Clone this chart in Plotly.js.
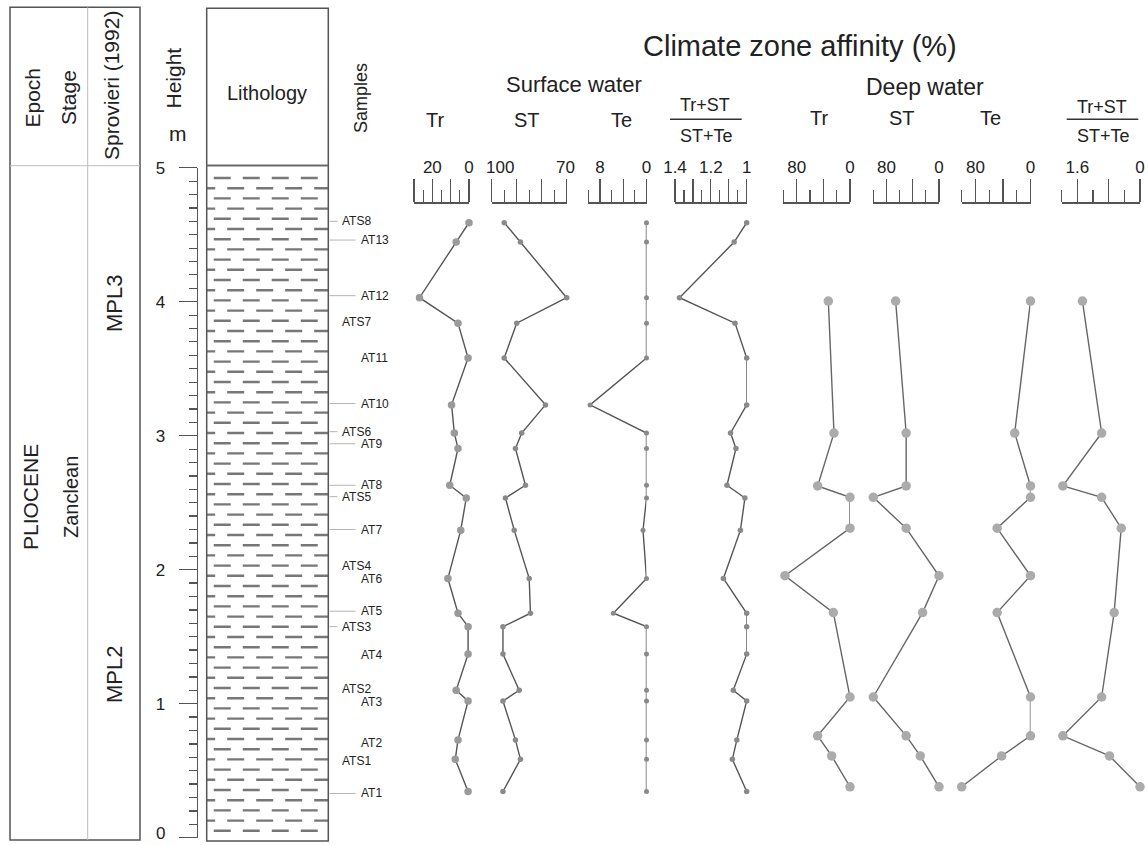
<!DOCTYPE html>
<html>
<head>
<meta charset="utf-8">
<script src="https://cdn.plot.ly/plotly-3.0.1.min.js"></script>
<style>html,body{margin:0;padding:0;background:#fff;}#chart{width:1148px;height:845px;}</style>
</head>
<body>
<div id="chart"></div>
<script>
// ---------------- DATA ----------------
// Sample labels in the "Samples" column and their heights (m)
const labelNames   = ['ATS8','AT13','AT12','ATS7','AT11','AT10','ATS6','AT9','AT8','ATS5','AT7','ATS4','AT6','AT5','ATS3','AT4','ATS2','AT3','AT2','ATS1','AT1'];
const labelHeights = [4.60, 4.46, 4.045, 3.85, 3.58, 3.24, 3.03, 2.94, 2.63, 2.545, 2.30, 2.03, 1.93, 1.69, 1.575, 1.36, 1.11, 1.01, 0.71, 0.57, 0.33];
const leaderNames  = ['ATS8','AT13','AT12','AT10','ATS6','AT9','AT8','ATS5','AT7','AT5','ATS3','AT1'];

// Surface water (planktonic) samples
const surfaceSamples = ['ATS8','AT13','AT12','ATS7','AT11','AT10','ATS6','AT9','AT8','ATS5','AT7','AT6','AT5','ATS3','AT4','ATS2','AT3','AT2','ATS1','AT1'];
const surfaceHeight  = [4.59, 4.445, 4.03, 3.84, 3.58, 3.23, 3.02, 2.905, 2.63, 2.535, 2.295, 1.935, 1.675, 1.575, 1.37, 1.10, 1.02, 0.73, 0.585, 0.345];
const surfaceTr      = [0, 7, 27, 6, 0.5, 9.5, 8, 6, 10.5, 1.5, 4.5, 11.5, 6, 0.5, 0.5, 7, 0.5, 6, 7.5, 0.5];
const surfaceST      = [95, 88.5, 70, 90, 95, 78.5, 88, 90.5, 86.5, 94.5, 91, 85, 84.5, 95.5, 95.5, 89, 95.5, 90.5, 88.5, 95.5];
const surfaceTe      = [0, 0, 0, 0, 0, 9.7, 0, 0, 0, 0, 0.6, 0, 5.7, 0, 0, 0, 0, 0, 0, 0];
const surfaceRatio   = [1.0, 1.07, 1.375, 1.065, 1.0, 1.0, 1.09, 1.06, 1.11, 1.01, 1.035, 1.13, 1.0, 1.0, 1.0, 1.075, 1.0, 1.055, 1.08, 1.0];

// Deep water (benthic) samples
const deepSamples = ['AT12','ATS6','AT8','ATS5','AT7','AT6','AT5','AT3','AT2','ATS1','AT1'];
const deepHeight  = [4.005, 3.02, 2.625, 2.54, 2.31, 1.955, 1.68, 1.05, 0.76, 0.61, 0.38];
const deepTr      = [32.5, 24, 48.5, 0, 0, 97.5, 25, 0, 48.5, 27.5, 0];
const deepST      = [66, 50, 50, 100, 50, 0, 25, 100, 50, 28.5, 0];
const deepTe      = [0, 23, 0, 0, 48.5, 0, 48.5, 0, 0, 42, 100];
const deepRatio   = [1.47, 0.98, 1.97, 0.98, 0.48, null, 0.66, 0.98, 1.97, 0.78, 0];

// Height axis ticks (m)
const heightTicks = [0, 1, 2, 3, 4, 5];

// ---------------- LAYOUT HELPERS ----------------
const W = 1148, H = 845;
const px = v => v / W;
const py = v => 1 - v / H;
const FONT = 'Liberation Sans, Arial, Helvetica, sans-serif';
const DARK = '#222';
const AX = '#555';

const yTop = 167.7, yBot = 837.7;   // pixel rows of 5 m and 0 m
const bracketY = 202.3;

function miniAxis(l, r, range, tall, text, short) {
  return {
    domain: [px(l), px(r)], range: range, anchor: 'free', position: py(bracketY), side: 'top',
    showline: true, linecolor: AX, linewidth: 1.3,
    ticks: 'outside', ticklen: 23, tickwidth: 1.2, tickcolor: AX,
    tickmode: 'array', tickvals: tall, ticktext: text,
    tickfont: {family: FONT, size: 17, color: DARK},
    minor: {tickmode: 'array', tickvals: short, ticks: 'outside', ticklen: 12, tickwidth: 1.2, tickcolor: AX, showgrid: false},
    showgrid: false, zeroline: false, fixedrange: true
  };
}

function series(x, y, xa, size, color, lineColor) {
  return {
    type: 'scatter', mode: 'lines+markers', x: x, y: y, xaxis: xa, yaxis: 'y',
    line: {color: lineColor, width: 1.4}, marker: {size: size, color: color, line: {width: 0}},
    connectgaps: true, cliponaxis: false, hoverinfo: 'skip', showlegend: false
  };
}

const traces = [
  series(surfaceTr, surfaceHeight, 'x', 7.5, '#9a9a9a', '#555'),
  series(surfaceST, surfaceHeight, 'x2', 5.5, '#8a8a8a', '#555'),
  series(surfaceTe, surfaceHeight, 'x3', 5, '#8a8a8a', '#555'),
  series(surfaceRatio, surfaceHeight, 'x4', 5.5, '#8a8a8a', '#555'),
  series(deepTr, deepHeight, 'x5', 9.5, '#ababab', '#666'),
  series(deepST, deepHeight, 'x6', 9.5, '#ababab', '#666'),
  series(deepTe, deepHeight, 'x7', 9.5, '#ababab', '#666'),
  series(deepRatio, deepHeight, 'x8', 9.5, '#ababab', '#666')
];

// Lithology texture: dashed rows (clay / marl symbol)
const rowStep = 10.2 / 134;
const rowsA = {x: [], y: []}, rowsB = {x: [], y: []};
let k = 0;
for (let h = 5 - 10.3 / 134; h > 0.03; h -= rowStep, k++) {
  const tgt = (k % 2 === 0) ? rowsA : rowsB;
  tgt.x.push(k % 2 === 0 ? 0.058 : -0.07, 1.0, null);
  tgt.y.push(h, h, null);
}
[rowsA, rowsB].forEach(r => traces.push({
  type: 'scatter', mode: 'lines', x: r.x, y: r.y, xaxis: 'x9', yaxis: 'y',
  line: {color: '#777', width: 2.4, dash: '17px,12px'}, connectgaps: false,
  hoverinfo: 'skip', showlegend: false
}));

// ---------------- ANNOTATIONS ----------------
const ann = [];
function txt(text, x, y, size, angle, extra) {
  ann.push(Object.assign({text: text, x: px(x), y: py(y), xref: 'paper', yref: 'paper',
    xanchor: 'center', yanchor: 'middle', showarrow: false, textangle: angle || 0,
    font: {family: FONT, size: size, color: DARK}}, extra || {}));
}
txt('Epoch', 32, 97.5, 21, -90);
txt('Stage', 68, 98, 21, -90);
txt('Sprovieri (1992)', 111, 86, 21, -90);
txt('Height', 173, 78.5, 21, -90);
txt('m', 178, 134, 21, 0);
txt('Lithology', 267, 93, 20, 0);
txt('Samples', 361, 98, 18, -90);
txt('PLIOCENE', 30, 497, 21, -90);
txt('Zanclean', 71, 497, 20, -90);
txt('MPL3', 114, 304, 22, -90);
txt('MPL2', 114, 675, 22, -90);
txt('Climate zone affinity (%)', 800, 46, 29, 0);
txt('Surface water', 574, 85, 22, 0);
txt('Deep water', 925, 87, 23, 0);
txt('Tr', 435, 120, 20, 0);
txt('ST', 526.7, 120, 20, 0);
txt('Te', 621.7, 120, 20, 0);
txt('Tr+ST', 705, 105.5, 18, 0);
txt('ST+Te', 706.7, 135.5, 18, 0);
txt('Tr', 819, 118, 20, 0);
txt('ST', 902, 118, 20, 0);
txt('Te', 990, 118, 20, 0);
txt('Tr+ST', 1102, 107.5, 18, 0);
txt('ST+Te', 1103, 135.5, 18, 0);

// Surface ST scale labels (placed on the x2 scale, "100" nudged right as in the original)
ann.push({text: '100', x: 100, xref: 'x2', y: py(167), yref: 'paper', xshift: 8,
  xanchor: 'center', yanchor: 'middle', showarrow: false, font: {family: FONT, size: 17, color: DARK}});
ann.push({text: '70', x: 70, xref: 'x2', y: py(167), yref: 'paper', xshift: -1,
  xanchor: 'center', yanchor: 'middle', showarrow: false, font: {family: FONT, size: 17, color: DARK}});
// bottom "0" of the height scale (kept inside the page)
ann.push({text: String(heightTicks[0]), x: px(160), xref: 'paper', y: 0, yref: 'paper',
  xanchor: 'center', yanchor: 'bottom', showarrow: false, font: {family: FONT, size: 17, color: DARK}});

// sample labels
labelNames.forEach((n, i) => {
  const isS = n.startsWith('ATS');
  ann.push({text: n, x: px(isS ? 340 : 358.5), y: labelHeights[i], xref: 'paper', yref: 'y',
    xanchor: 'left', yanchor: 'middle', showarrow: false,
    font: {family: FONT, size: 12, color: DARK}});
});

// ---------------- SHAPES ----------------
const shapes = [];
function pline(x0, y0, x1, y1, color, width) {
  shapes.push({type: 'line', xref: 'paper', yref: 'paper', x0: px(x0), x1: px(x1), y0: py(y0), y1: py(y1),
    line: {color: color, width: width}});
}
function prect(x0, y0, x1, y1, color, width) {
  shapes.push({type: 'rect', xref: 'paper', yref: 'paper', x0: px(x0), x1: px(x1), y0: py(y0), y1: py(y1),
    line: {color: color, width: width}, fillcolor: 'rgba(0,0,0,0)'});
}
prect(10, 7.3, 140, 840, '#555', 1.5);
pline(87.7, 7.3, 87.7, 840, '#bdbdbd', 1);
pline(10, 165.7, 140, 165.7, '#bdbdbd', 1);
prect(206.7, 8.3, 328.3, 841, '#555', 1.5);
pline(206.7, 165.5, 328.3, 165.5, '#6a6a6a', 2.2);
pline(670, 119.3, 741.7, 119.3, '#333', 1.5);
pline(1066.7, 119.3, 1138.3, 119.3, '#333', 1.5);
// leader lines for labelled sample positions
labelNames.forEach((n, i) => {
  if (leaderNames.indexOf(n) < 0) return;
  const isS = n.startsWith('ATS');
  shapes.push({type: 'line', xref: 'paper', yref: 'y', x0: px(329.5), x1: px(isS ? 337.5 : 355.5),
    y0: labelHeights[i], y1: labelHeights[i], line: {color: '#b5b5b5', width: 1}});
});

// ---------------- LAYOUT ----------------
const layout = {
  width: W, height: H, margin: {l: 0, r: 0, t: 0, b: 0, pad: 0},
  paper_bgcolor: '#fff', plot_bgcolor: 'rgba(0,0,0,0)', showlegend: false,
  font: {family: FONT, color: DARK},
  yaxis: {
    domain: [py(yBot), py(yTop)], range: [0, 5], anchor: 'free', position: px(197), side: 'left',
    showline: true, linecolor: AX, linewidth: 1.3,
    ticks: 'outside', ticklen: 18.5, tickwidth: 1.2, tickcolor: AX,
    tickmode: 'array', tickvals: heightTicks, ticktext: heightTicks.map((v, i) => i === 0 ? '' : String(v)),
    ticklabelstandoff: 10,
    tickfont: {family: FONT, size: 17, color: DARK},
    minor: {dtick: 0.1, tick0: 0, ticks: 'outside', ticklen: 8.5, tickwidth: 1.2, tickcolor: AX, showgrid: false},
    showgrid: false, zeroline: false, fixedrange: true
  },
  xaxis:  miniAxis(414, 469, [30, 0], [30, 20, 10, 0], ['', '20', '', '0'], [25, 15, 5]),
  xaxis2: miniAxis(491.7, 566.7, [100, 70], [100, 90, 80, 70], ['', '', '', ''], [95, 85, 75]),
  xaxis3: miniAxis(588.3, 646.5, [10, 0], [8, 4, 0], ['8', '', '0'], [10, 6, 2]),
  xaxis4: miniAxis(675, 746.7, [1.4, 1.0], [1.4, 1.3, 1.2, 1.1, 1.0], ['1.4', '', '1.2', '', '1'], [1.35, 1.25, 1.15, 1.05]),
  xaxis5: miniAxis(783.3, 850, [100, 0], [80, 40, 0], ['80', '', '0'], [100, 60, 20]),
  xaxis6: miniAxis(873.3, 939, [100, 0], [80, 40, 0], ['80', '', '0'], [100, 60, 20]),
  xaxis7: miniAxis(961.7, 1030.5, [100, 0], [80, 40, 0], ['80', '', '0'], [100, 60, 20]),
  xaxis8: miniAxis(1061.7, 1140, [2, 0], [1.6, 0.8, 0], ['1.6', '', '0'], [2.0, 1.2, 0.4]),
  xaxis9: {domain: [px(206.7), px(328.3)], range: [0, 1], anchor: 'y', visible: false, fixedrange: true},
  annotations: ann,
  shapes: shapes
};

Plotly.newPlot('chart', traces, layout, {staticPlot: true, displayModeBar: false});
</script>
</body>
</html>
